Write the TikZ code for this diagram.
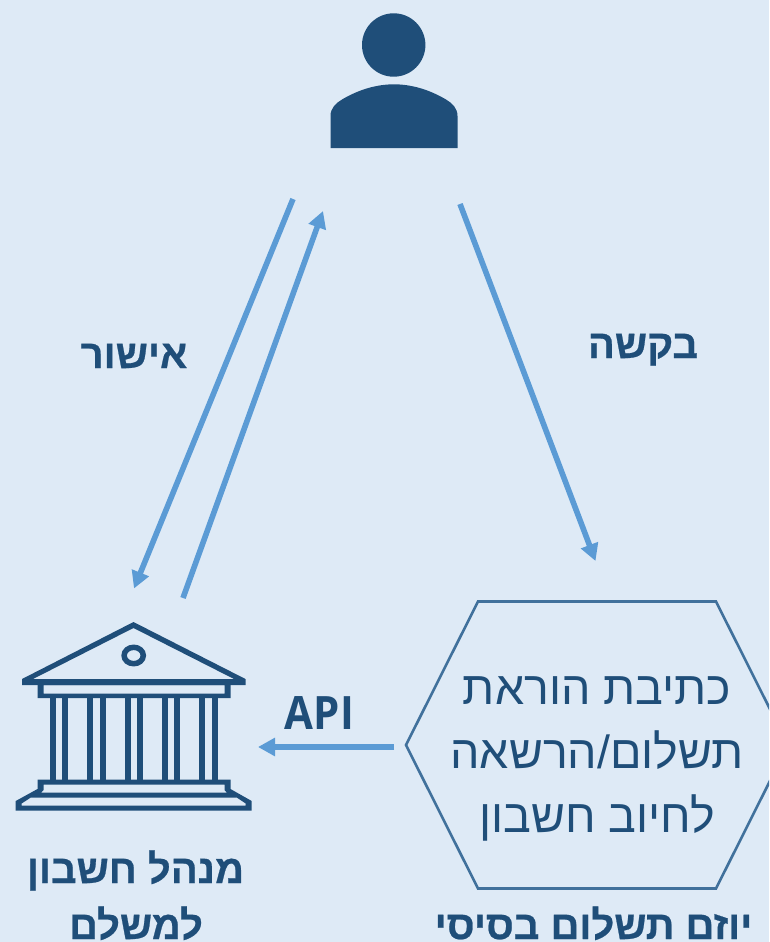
\documentclass[tikz,border=0pt]{standalone}
\usepackage{graphicx}
\usepackage{fontspec}
\usetikzlibrary{arrows.meta}
\TeXXeTstate=1
\newfontfamily\hebfont[Script=Hebrew]{Liberation Sans}
\newfontfamily\hebbold[Script=Hebrew,BoldFont={Liberation Sans Bold},BoldFeatures={FakeBold=0.6}]{Liberation Sans}
\newfontfamily\apifont{Open Sans}
\definecolor{bgc}{HTML}{DEEAF6}
\definecolor{dark}{HTML}{1F4E79}
\definecolor{arrowc}{HTML}{5B9BD5}
\definecolor{hexc}{HTML}{41719C}
\tikzset{
  flow/.style={draw=arrowc,line width=5.6pt,-{Triangle[length=17pt,width=17.5pt]}},
  boldlabel/.style={text=dark,inner sep=0pt,anchor=base,font=\hebbold\bfseries\fontsize{40}{48}\selectfont},
  apilabel/.style={text=dark,inner sep=0pt,anchor=base,font=\apifont\bfseries\fontsize{46}{54}\selectfont},
  hexlabel/.style={text=dark,inner sep=0pt,anchor=base,font=\hebfont\fontsize{46.5}{56}\selectfont},
}
\begin{document}
\begin{tikzpicture}[x=1pt,y=-1pt]
\path[use as bounding box] (0,0) rectangle (769,942);
\clip (0,0) rectangle (769,942);
\fill[bgc] (0,0) rectangle (769,942);
% person
\fill[dark] (393.7,45) circle[radius=31.7];
\fill[dark] (330.5,148) -- (330.5,116) .. controls (330.5,108) and (336,103) .. (342,99.5)
  .. controls (358,90) and (376,84.3) .. (394,84.3)
  .. controls (412,84.3) and (430,90) .. (446,99.5)
  .. controls (452,103) and (457.5,108) .. (457.5,116) -- (457.5,148) -- cycle;
% bank
\fill[dark,even odd rule] (133.5,622) -- (245.5,679) -- (245.5,685) -- (22,685) -- (22,679) -- cycle
  (133.5,628) -- (234,679) -- (33,679) -- cycle;
\draw[dark,line width=5.5pt] (133.7,655.5) ellipse[x radius=9.6,y radius=8.2];
\fill[dark,even odd rule] (37.5,685) rectangle (230.5,698) (43.5,685) rectangle (224.5,693.5);
\foreach \cx in {53,65,90,102.5,127.5,140,165,177,202,214.5}{
  \fill[dark] (\cx-3,697) rectangle (\cx+3,781);
}
\fill[dark,even odd rule] (37.5,779.5) -- (230.5,779.5) -- (230.5,789) -- (251.7,801) -- (251.7,810.7) -- (15.7,810.7) -- (15.7,801) -- (37.5,789) -- cycle
  (43.5,784.5) -- (224.5,784.5) -- (224.5,790) -- (227,792.7) -- (41,792.7) -- (43.5,790) -- cycle
  (30.5,797.7) -- (237,797.7) -- (245.7,803.5) -- (245.7,805.7) -- (21.7,805.7) -- (21.7,803.5) -- cycle;
% hexagon
\draw[hexc,line width=2.6pt,line join=miter] (406,745) -- (478,601.5) -- (716,601.5) -- (788,745) -- (716,888.5) -- (478,888.5) -- cycle;
% connector ends
\coordinate (ua) at (293,199);
\coordinate (ba) at (134,588.5);
\coordinate (bb) at (183,598);
\coordinate (ub) at (323,211);
\coordinate (uc) at (460,204);
\coordinate (hc) at (595.5,561);
\coordinate (hd) at (394,747);
\coordinate (bd) at (258,747);
\draw[flow] (ua) -- (ba);
\draw[flow] (bb) -- (ub);
\draw[flow] (uc) -- (hc);
\draw[flow] (hd) -- (bd);
% labels
\node[boldlabel] (approve) at (134,368) {\beginR אישור\endR};
\node[boldlabel] (request) at (643,358) {\beginR בקשה\endR};
\node[apilabel] (api) at (319.5,729) {\scalebox{.91}[1]{API}};
\node[hexlabel] (h1) at (597,704) {\beginR כתיבת הוראת\endR};
\node[hexlabel] (h2) at (597,768) {\beginR תשלום/הרשאה\endR};
\node[hexlabel] (h3) at (597,832) {\beginR לחיוב חשבון\endR};
\node[boldlabel] (m1) at (135.5,883) {\beginR מנהל חשבון\endR};
\node[boldlabel] (m2) at (136,939) {\beginR למשלם\endR};
\node[boldlabel] (pi) at (593.5,939) {\beginR יוזם תשלום בסיסי\endR};
\end{tikzpicture}
\end{document}
